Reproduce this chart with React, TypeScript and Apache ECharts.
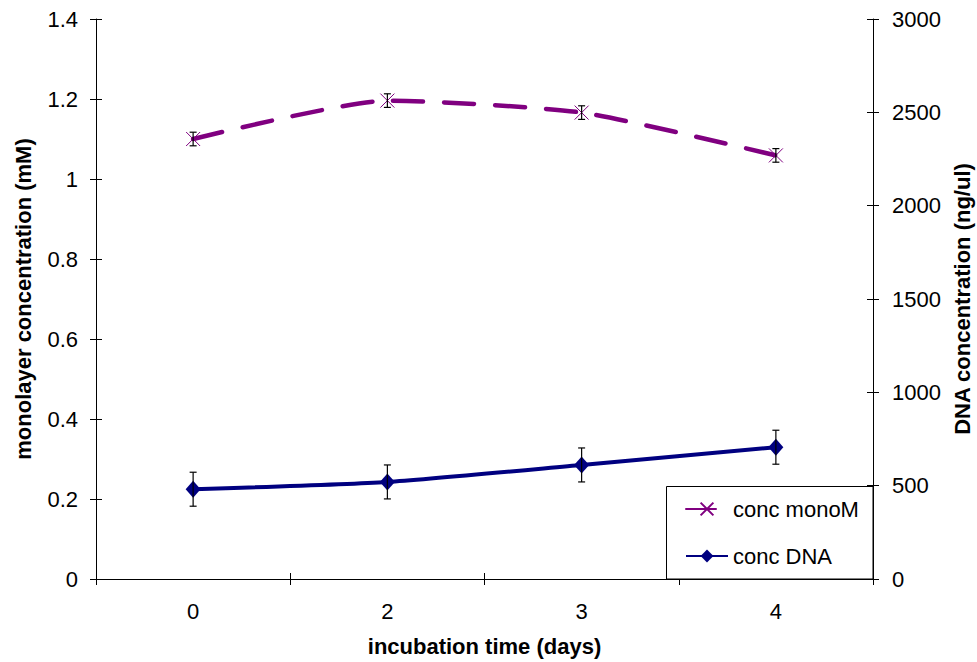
import React, { useEffect, useRef } from "react";
import * as echarts from "echarts";

const days = ["0", "2", "3", "4"];
const monoM = [1.1, 1.196, 1.166, 1.059];
const monoMErr = [0.017, 0.017, 0.017, 0.017];
const dna = [481, 520, 611, 706];
const dnaErr = [91, 91, 91, 91];
const leftTicks = { min: 0, max: 1.4, interval: 0.2 };
const rightTicks = { min: 0, max: 3000, interval: 500 };

const FONT = "'Liberation Sans', Arial, sans-serif";
const PURPLE = "#800080";
const NAVY = "#000080";

const errRender = (params: any, api: any) => {
  const x = api.value(0);
  const v = api.value(1);
  const e = api.value(2);
  const hi = api.coord([x, v + e]);
  const lo = api.coord([x, v - e]);
  const w = 3.5;
  const st = { stroke: "#000", lineWidth: 1.2 };
  return {
    type: "group",
    children: [
      { type: "line", shape: { x1: hi[0], y1: hi[1], x2: lo[0], y2: lo[1] }, style: st },
      { type: "line", shape: { x1: hi[0] - w, y1: hi[1], x2: hi[0] + w, y2: hi[1] }, style: st },
      { type: "line", shape: { x1: lo[0] - w, y1: lo[1], x2: lo[0] + w, y2: lo[1] }, style: st },
    ],
  };
};

export default function App() {
  const ref = useRef<HTMLDivElement>(null);
  useEffect(() => {
    if (!ref.current) return;
    const chart = echarts.init(ref.current, undefined, { renderer: "svg" });
    const axisLine = { show: true, lineStyle: { color: "#000", width: 1 } };
    const labelStyle = { color: "#000", fontSize: 22, fontFamily: FONT, formatter: (v: any) => String(v) };
    const nameStyle = { color: "#000", fontSize: 22, fontWeight: "bold" as const, fontFamily: FONT };
    chart.setOption({
      animation: false,
      backgroundColor: "#fff",
      grid: { left: 96, top: 19, right: 104, bottom: 83, containLabel: false, outerBoundsMode: "none" },
      xAxis: [
        {
          type: "category",
          data: days,
          boundaryGap: true,
          position: "bottom",
          axisLine,
          axisTick: { show: true, length: 6, lineStyle: { color: "#000" } },
          axisLabel: { color: "#000", fontSize: 22, fontFamily: FONT, margin: 21 },
          name: "incubation time (days)",
          nameLocation: "middle",
          nameGap: 56,
          nameTextStyle: nameStyle,
          splitLine: { show: false },
        },
        {
          type: "category",
          data: days,
          boundaryGap: true,
          position: "bottom",
          axisLine: { show: false },
          axisTick: { show: true, inside: true, length: 6, lineStyle: { color: "#000" } },
          axisLabel: { show: false },
          splitLine: { show: false },
        },
      ],
      yAxis: [
        {
          type: "value",
          position: "left",
          ...leftTicks,
          axisLine,
          axisTick: { show: true, length: 6, lineStyle: { color: "#000" } },
          axisLabel: { ...labelStyle, margin: 18 },
          splitLine: { show: false },
          name: "monolayer concentration (mM)",
          nameLocation: "middle",
          nameGap: 62,
          nameTextStyle: nameStyle,
        },
        {
          type: "value",
          position: "right",
          ...rightTicks,
          axisLine,
          axisTick: { show: true, length: 6, lineStyle: { color: "#000" } },
          axisLabel: { ...labelStyle, margin: 19 },
          splitLine: { show: false },
          name: "DNA concentration (ng/ul)",
          nameLocation: "middle",
          nameGap: 76,
          nameTextStyle: nameStyle,
        },
        {
          type: "value",
          position: "left",
          ...leftTicks,
          axisLine: { show: false },
          axisTick: { show: true, inside: true, length: 6, lineStyle: { color: "#000" } },
          axisLabel: { show: false },
          splitLine: { show: false },
        },
        {
          type: "value",
          position: "right",
          ...rightTicks,
          axisLine: { show: false },
          axisTick: { show: true, inside: true, length: 6, lineStyle: { color: "#000" } },
          axisLabel: { show: false },
          splitLine: { show: false },
        },
      ],
      legend: {
        show: true,
        orient: "vertical",
        left: 685,
        top: 498,
        padding: 0,
        itemWidth: 42,
        itemHeight: 16,
        itemGap: 25,
        z: 20,
        data: ["conc monoM", "conc DNA"],
        textStyle: { color: "#000", fontSize: 22, lineHeight: 22, fontFamily: FONT },
      },
      graphic: [
        {
          type: "rect",
          z: 15,
          shape: { x: 666.5, y: 486.5, width: 206.5, height: 92.5 },
          style: { fill: "#fff", stroke: "#000", lineWidth: 1 },
        },
      ],
      series: [
        {
          name: "conc monoM",
          type: "line",
          data: monoM,
          yAxisIndex: 0,
          smooth: 0.2,
          symbol: "path://M0,0L10,10M10,0L0,10",
          symbolSize: 14,
          itemStyle: { color: "transparent", borderColor: PURPLE, borderWidth: 1 },
          lineStyle: { color: PURPLE, width: 4.5, type: [30, 21], cap: "round" },
          z: 2,
        },
        {
          name: "conc DNA",
          type: "line",
          data: dna,
          yAxisIndex: 1,
          smooth: 0.2,
          symbol: "diamond",
          symbolSize: [15, 17],
          itemStyle: { color: NAVY },
          lineStyle: { color: NAVY, width: 4 },
          z: 2,
        },
        {
          name: "err monoM",
          type: "custom",
          yAxisIndex: 0,
          renderItem: errRender,
          encode: { x: 0, y: 1 },
          data: days.map((_, i) => [i, monoM[i], monoMErr[i]]),
          z: 4,
        },
        {
          name: "err DNA",
          type: "custom",
          yAxisIndex: 1,
          renderItem: errRender,
          encode: { x: 0, y: 1 },
          data: days.map((_, i) => [i, dna[i], dnaErr[i]]),
          z: 4,
        },
      ],
    });
    return () => chart.dispose();
  }, []);
  return (
    <div
      ref={ref}
      style={{ position: "fixed", left: 0, top: 0, width: 977, height: 662 }}
    />
  );
}
